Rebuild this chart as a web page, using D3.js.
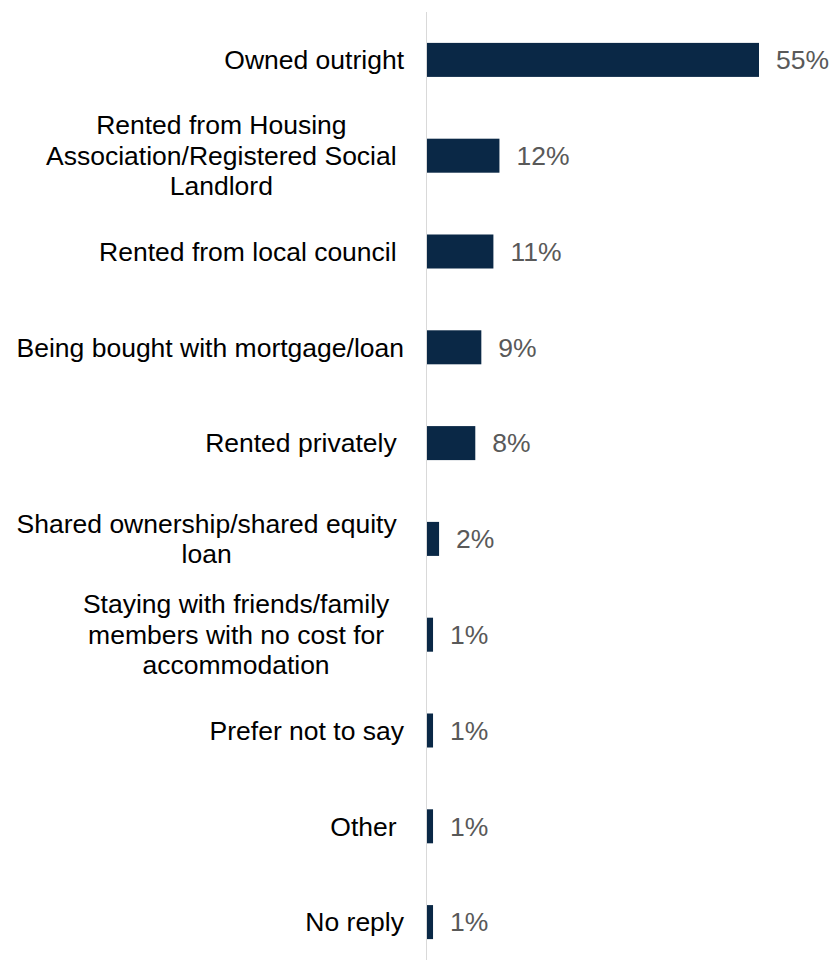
<!DOCTYPE html>
<html>
<head>
<meta charset="utf-8">
<script src="https://cdn.jsdelivr.net/npm/d3@7"></script>
<style>
  body { margin: 0; background: #fff; }
  svg text { font-family: "Liberation Sans", Arial, sans-serif; }
</style>
</head>
<body>
<svg id="chart" width="830" height="961"></svg>
<script>
// tenure categories (line breaks as in the original, trailing spaces kept)
var categories = [
  ["Owned outright"],
  ["Rented from Housing", "Association/Registered Social ", "Landlord"],
  ["Rented from local council "],
  ["Being bought with mortgage/loan"],
  ["Rented privately "],
  ["Shared ownership/shared equity ", "loan"],
  ["Staying with friends/family  ", "members with no cost for", "accommodation"],
  ["Prefer not to say"],
  ["Other "],
  ["No reply"]
];
var values = [55, 12, 11, 9, 8, 2, 1, 1, 1, 1];

var fontSize = 26.5;
var svg = d3.select("#chart");

var x0 = 427;
var x = d3.scaleLinear().domain([0, 55]).range([x0, 759]);

var y = d3.scaleBand()
  .domain(d3.range(categories.length))
  .range([12, 970])
  .paddingInner(0.645)
  .paddingOuter(0.3225);

// vertical axis line
svg.append("line")
  .attr("x1", x0 - 0.5).attr("x2", x0 - 0.5)
  .attr("y1", 12).attr("y2", 960)
  .attr("stroke", "#d9d9d9")
  .attr("stroke-width", 1);

// bars
svg.selectAll(".bar")
  .data(values)
  .enter().append("rect")
  .attr("class", "bar")
  .attr("x", x(0))
  .attr("y", function(d, i) { return y(i); })
  .attr("width", function(d) { return x(d) - x(0); })
  .attr("height", y.bandwidth())
  .attr("fill", "#0a2846");

// value labels
svg.selectAll(".val")
  .data(values)
  .enter().append("text")
  .attr("class", "val")
  .attr("x", function(d) { return x(d) + 17; })
  .attr("y", function(d, i) { return y(i) + y.bandwidth() / 2; })
  .attr("dy", "0.35em")
  .attr("font-size", fontSize)
  .attr("fill", "#595959")
  .text(function(d) { return d + "%"; });

// measure a string (keeping spaces)
var probe = svg.append("text").attr("font-size", fontSize).style("white-space", "pre");
function measure(s) {
  probe.text(s);
  return probe.node().getComputedTextLength();
}

// category labels: block right-aligned, lines centred within the block
var labelRight = 404;
var lineH = 30.5;
categories.forEach(function(lines, i) {
  var cy = y(i) + y.bandwidth() / 2;
  var widest = 0, trail = 0;
  lines.forEach(function(l) {
    var w = measure(l.replace(/\s+$/, ""));
    if (w > widest) { widest = w; trail = measure(l) - w; }
  });
  var cx = labelRight - trail - widest / 2;
  lines.forEach(function(l, j) {
    svg.append("text")
      .attr("font-size", fontSize)
      .attr("fill", "#000")
      .attr("text-anchor", "middle")
      .attr("x", cx)
      .attr("y", cy + (j - (lines.length - 1) / 2) * lineH)
      .attr("dy", "0.35em")
      .text(l.replace(/\s+$/, ""));
  });
});
probe.remove();
</script>
</body>
</html>
